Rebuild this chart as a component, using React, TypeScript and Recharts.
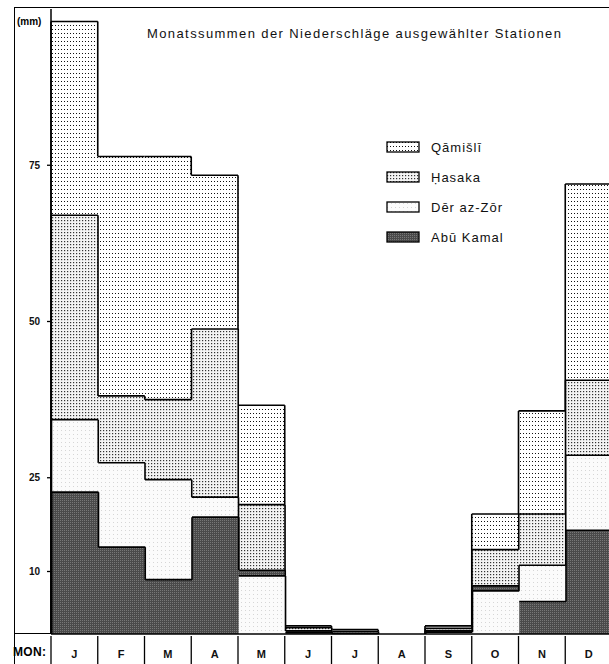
import React from 'react';
import { BarChart, Bar, XAxis, YAxis, Legend } from 'recharts';

const months = ['J', 'F', 'M', 'A', 'M', 'J', 'J', 'A', 'S', 'O', 'N', 'D'];
const stations = ['Qāmišlī', 'Ḥasaka', 'Dēr az-Zōr', 'Abū Kamal'];
const qamishli = [98.0, 76.4, 76.4, 73.4, 36.6, 1.3, 0.7, 0, 1.3, 19.2, 35.7, 72.0];
const hasaka = [67.0, 38.1, 37.5, 48.8, 20.7, 1.0, 0.4, 0, 0.9, 13.5, 19.2, 40.6];
const derAzZor = [34.3, 27.4, 24.7, 21.9, 9.3, 0.5, 0.1, 0, 0.3, 6.9, 11.0, 28.6];
const abuKamal = [22.7, 13.9, 8.7, 18.7, 10.2, 0.3, 0, 0, 0.5, 7.7, 5.2, 16.6];
const yTicks = [10, 25, 50, 75];

const series = [qamishli, hasaka, derAzZor, abuKamal];
const fills = ['url(#patQ)', 'url(#patH)', 'url(#patD)', 'url(#patA)'];
const COL = 561 / 12;
const FONT = '"Liberation Sans", Arial, sans-serif';

// each month: stations sorted high -> low, so smaller ones are painted on top
const data = months.map((m, i) => {
  const order = [0, 1, 2, 3].sort((a, b) => series[b][i] - series[a][i]);
  const row: any = { m };
  order.forEach((s, k) => {
    row['r' + k] = series[s][i];
    row['s' + k] = s;
  });
  return row;
});

const StepBar = (props: any) => {
  const { x, y, height, index, payload, rank } = props;
  const s = payload['s' + rank];
  const vals = series[s];
  const v = vals[index];
  if (!v) return null;
  const base = y + height;
  const ppu = height / v;
  const prev = index > 0 ? vals[index - 1] : 0;
  const next = index < vals.length - 1 ? vals[index + 1] : 0;
  let d = `M${x},${y}H${x + COL}`;
  if (prev < v) d += `M${x},${y}V${base - prev * ppu}`;
  if (next < v) d += `M${x + COL},${y}V${base - next * ppu}`;
  return (
    <g>
      <rect x={x} y={y} width={COL + 0.5} height={height} fill={fills[s]} />
      <path d={d} stroke="#000" strokeWidth={1.6} fill="none" />
    </g>
  );
};

const MonthTick = (props: any) => {
  const { x, y, payload, index } = props;
  const left = x - COL / 2;
  return (
    <g>
      <line x1={left} y1={y} x2={left} y2={y + 32} stroke="#000" strokeWidth={1.3} />
      {index === months.length - 1 && (
        <line x1={left + COL} y1={y} x2={left + COL} y2={y + 32} stroke="#000" strokeWidth={1.3} />
      )}
      <text x={x} y={y + 22} textAnchor="middle" fontSize={11} fontWeight="bold" fill="#111" fontFamily={FONT}>
        {payload.value}
      </text>
    </g>
  );
};

const LegendBox = () => (
  <div style={{ fontFamily: FONT }}>
    {stations.map((name, i) => (
      <div key={name} style={{ display: 'flex', alignItems: 'center', height: 30 }}>
        <svg width={35} height={13} style={{ marginRight: 10 }}>
          <rect x={1} y={1} width={32} height={10} fill={fills[i]} stroke="#000" strokeWidth={1.3} />
        </svg>
        <span style={{ fontSize: 13, letterSpacing: 1, color: '#111' }}>{name}</span>
      </div>
    ))}
  </div>
);

export default function App() {
  return (
    <div style={{ position: 'relative', width: 609, height: 664, overflow: 'hidden', background: '#fff' }}>
      <style>{'body{margin:0;overflow:hidden}'}</style>
      <div style={{ position: 'absolute', left: 14, top: 7, width: 700, height: 700, borderLeft: '1.5px solid #000', borderTop: '1.5px solid #000' }} />
      <div style={{ position: 'absolute', left: 14, top: 633, width: 38, borderTop: '1.5px solid #000' }} />
      <div style={{ position: 'absolute', left: 17, top: 16, fontFamily: FONT, fontSize: 10, fontWeight: 'bold' }}>(mm)</div>
      <div style={{ position: 'absolute', left: 13, top: 645, fontFamily: FONT, fontSize: 12, fontWeight: 'bold', letterSpacing: 0.3 }}>MON:</div>
      <div style={{ position: 'absolute', left: 147, top: 26, fontFamily: FONT, fontSize: 13, letterSpacing: 1.4, color: '#111', whiteSpace: 'nowrap' }}>
        Monatssummen der Niederschläge ausgewählter Stationen
      </div>
      <BarChart
        width={612}
        height={664}
        data={data}
        margin={{ top: 9, right: 0, bottom: 0, left: 0 }}
        barCategoryGap={0}
        barGap="-100%"
        style={{ position: 'absolute', left: 0, top: 0 }}
      >
        <defs>
          <pattern id="patQ" width={3} height={4} patternUnits="userSpaceOnUse">
            <rect width={3} height={4} fill="#fff" />
            <rect x={1} y={1} width={1} height={1} fill="#111" />
          </pattern>
          <pattern id="patH" width={3} height={3} patternUnits="userSpaceOnUse">
            <rect width={3} height={3} fill="#f4f4f4" />
            <rect x={1} y={1} width={1.2} height={1.2} fill="#333" />
          </pattern>
          <pattern id="patD" width={4} height={4} patternUnits="userSpaceOnUse">
            <rect width={4} height={4} fill="#fbfbfb" />
            <rect x={1} y={2} width={1} height={1} fill="#d6d6d6" />
          </pattern>
          <pattern id="patA" width={2} height={2} patternUnits="userSpaceOnUse">
            <rect width={2} height={2} fill="#4a4a4a" />
            <rect x={0} y={0} width={1} height={1} fill="#777" />
          </pattern>
        </defs>
        <XAxis
          dataKey="m"
          height={30}
          interval={0}
          tickLine={false}
          tickSize={0}
          axisLine={{ stroke: '#000', strokeWidth: 1.5 }}
          tick={<MonthTick />}
        />
        <YAxis
          width={51}
          domain={[0, 100]}
          ticks={yTicks}
          tickSize={4}
          tickMargin={7}
          axisLine={{ stroke: '#000', strokeWidth: 1.5 }}
          tickLine={{ stroke: '#000', strokeWidth: 1.3 }}
          tick={{ fontSize: 10, fontWeight: 'bold', fill: '#111', fontFamily: FONT }}
        />
        <Legend
          layout="vertical"
          align="center"
          verticalAlign="middle"
          content={() => <LegendBox />}
          wrapperStyle={{ left: 386, top: 132, width: 200, height: 120 }}
        />
        {[0, 1, 2, 3].map((k) => (
          <Bar
            key={k}
            dataKey={'r' + k}
            isAnimationActive={false}
            shape={(p: any) => <StepBar {...p} rank={k} />}
          />
        ))}
      </BarChart>
    </div>
  );
}
